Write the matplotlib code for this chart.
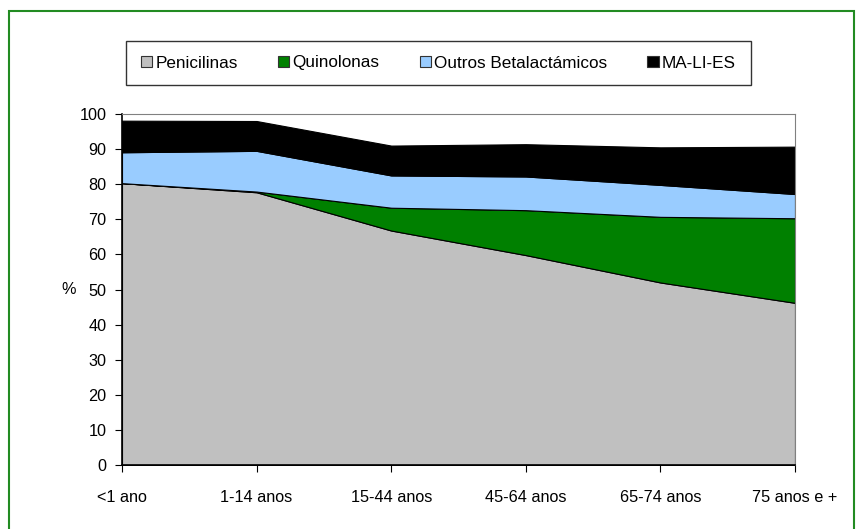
import matplotlib.pyplot as plt
from matplotlib.patches import Rectangle

plt.rcParams['font.family'] = ['Liberation Sans', 'DejaVu Sans']

grupos = ['<1 ano', '1-14 anos', '15-44 anos', '45-64 anos', '65-74 anos', '75 anos e +']
penicilinas = [80.3, 77.7, 66.8, 59.8, 52.0, 46.2]
quinolonas = [0.0, 0.2, 6.5, 12.8, 18.7, 24.1]
outros_beta = [8.8, 11.6, 9.2, 9.6, 9.1, 6.9]
ma_li_es = [9.0, 8.5, 8.5, 9.2, 10.7, 13.5]

nomes = ['Penicilinas', 'Quinolonas', 'Outros Betalactámicos', 'MA-LI-ES']
cores = ['#c0c0c0', '#008000', '#99ccff', '#000000']

fig = plt.figure(figsize=(8.56, 5.29), dpi=100)
ax = fig.add_axes([122 / 856, 1 - 465 / 529, (795 - 122) / 856, (465 - 114) / 529])

x = list(range(len(grupos)))
ax.stackplot(x, penicilinas, quinolonas, outros_beta, ma_li_es,
             colors=cores, labels=nomes, edgecolor='black', linewidth=0.8)

ax.set_xlim(0, len(grupos) - 1)
ax.set_ylim(0, 100)
ax.set_yticks(range(0, 101, 10))
ax.set_xticks(x)
ax.set_xticklabels(grupos, fontsize=11.7)
ax.tick_params(axis='y', labelsize=11.7, direction='out', length=5, pad=6)
ax.tick_params(axis='x', direction='out', length=5, pad=13)
ax.set_ylabel('%', rotation=0, fontsize=11.7, labelpad=8, va='center')

for s in ['top', 'right']:
    ax.spines[s].set_color('#808080')
for s in ['left', 'bottom']:
    ax.spines[s].set_color('black')
    ax.spines[s].set_linewidth(1.2)

leg = fig.legend(*ax.get_legend_handles_labels(), loc='center',
                 bbox_to_anchor=(438.5 / 856, 1 - 63 / 529), ncol=4,
                 fontsize=12.3, frameon=True, fancybox=False,
                 handlelength=0.65, handleheight=0.65, handletextpad=0.2,
                 columnspacing=2.35, borderpad=0.85, borderaxespad=0)
leg.get_frame().set_edgecolor('black')
leg.get_frame().set_linewidth(1.0)
for h in leg.legend_handles:
    h.set_edgecolor('#333333')
    h.set_linewidth(0.8)

# moldura verde exterior
fig.patches.append(Rectangle((9 / 856, -0.05), (854 - 9) / 856, 1 - 11 / 529 + 0.05,
                             transform=fig.transFigure, fill=False,
                             edgecolor='#228b22', linewidth=1.5, clip_on=False))

fig.savefig('out.png', dpi=100)
